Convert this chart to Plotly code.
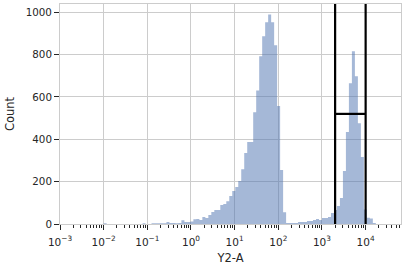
import numpy as np
import plotly.graph_objects as go

# Histogram of Y2-A on log-spaced bins
bin_start_log = -2.0      # log10 of first bin edge
bin_width_log = 0.0685    # bin width in decades
counts = [3] + [0]*12 + [4, 0, 0, 3, 3, 4, 4, 4, 9, 5, 5, 4, 5, 18, 10, 10, 12,
          23, 24, 19, 33, 28, 42, 57, 66, 66, 90, 94, 108, 132, 156, 175, 203,
          259, 335, 387, 387, 528, 630, 792, 887, 953, 990, 953, 844, 557, 255,
          55, 5, 5, 5, 5, 9, 9, 9, 14, 14, 19, 24, 19, 28, 28, 33, 52, 66, 85,
          123, 250, 434, 665, 816, 698, 476, 316, 68, 30, 26, 5]

gate_low = 2000
gate_high = 10000
gate_level = 520

y_ticks = [0, 200, 400, 600, 800, 1000]
x_tick_exps = [-3, -2, -1, 0, 1, 2, 3, 4]

n = len(counts)
edges = [10 ** (bin_start_log + i * bin_width_log) for i in range(n + 1)]
xs = [edges[0]] + edges
ys = [0] + counts + [0]

fig = go.Figure()
fig.add_trace(go.Scatter(
    x=xs, y=ys, mode="lines", line=dict(width=0, shape="hv"),
    fill="tozeroy", fillcolor="rgba(76,114,176,0.5)", hoverinfo="skip",
    showlegend=False))

# gate lines
for gx in (gate_low, gate_high):
    fig.add_shape(type="line", xref="x", yref="paper",
                  x0=gx, x1=gx, y0=0, y1=1,
                  line=dict(color="black", width=2.2))
fig.add_shape(type="line", xref="x", yref="y",
              x0=gate_low, x1=gate_high,
              y0=gate_level, y1=gate_level,
              line=dict(color="black", width=2.2))

minor_vals = [m * 10 ** e for e in range(-3, 5) for m in range(2, 10)]

fig.update_layout(
    width=405, height=270,
    margin=dict(l=60, r=4, t=4, b=46),
    paper_bgcolor="white", plot_bgcolor="white",
    font=dict(family="DejaVu Sans", size=10, color="#262626"),
    xaxis=dict(
        type="log", range=[-3.0, 4.81],
        tickmode="array", tickvals=[10 ** e for e in x_tick_exps],
        ticktext=["10<sup>%s</sup>" % (str(e).replace("-", "\u2212")) for e in x_tick_exps],
        ticks="outside", ticklen=5, tickcolor="#262626", tickwidth=1,
        ticklabelstandoff=3,
        showgrid=True, gridcolor="#cccccc", gridwidth=1,
        showline=True, linecolor="#cccccc", linewidth=1, mirror=True,
        zeroline=False,
        tickfont=dict(size=10.5),
        minor=dict(tickmode="array", tickvals=minor_vals, ticks="outside",
                   ticklen=3, tickcolor="#262626", tickwidth=1, showgrid=False),
        title=dict(text="Y2-A", font=dict(size=11.5), standoff=7),
    ),
    yaxis=dict(
        range=[0, 1039], tickmode="array", tickvals=y_ticks,
        ticks="outside", ticklen=5, tickcolor="#262626", tickwidth=1,
        showgrid=True, gridcolor="#cccccc", gridwidth=1,
        showline=True, linecolor="#cccccc", linewidth=1, mirror=True,
        zeroline=False,
        tickfont=dict(size=10.3),
        title=dict(text="Count", font=dict(size=11.5), standoff=8),
    ),
)

fig.write_html("out.html")
